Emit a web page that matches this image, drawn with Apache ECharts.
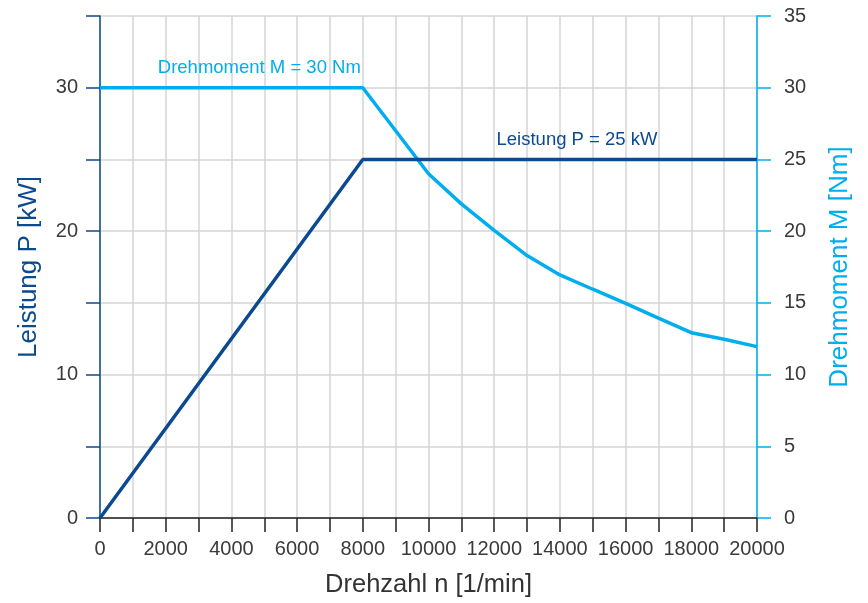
<!DOCTYPE html>
<html>
<head>
<meta charset="utf-8">
<script src="https://cdn.jsdelivr.net/npm/echarts@6/dist/echarts.min.js"></script>
<style>
html,body{margin:0;padding:0;background:#fff;}
#chart{width:868px;height:603px;}
</style>
</head>
<body>
<div id="chart"></div>
<script>
// Data
const speed = [0, 8000, 20000];
const powerKW = [0, 25, 25];
const torqueSpeed = [0, 8000, 9000, 10000, 11000, 12000, 13000, 14000, 15000, 16000, 17000, 18000, 19000, 20000];
const torqueNm = [30, 30, 27, 24, 21.9, 20.05, 18.3, 16.95, 15.95, 14.97, 13.93, 12.92, 12.46, 11.95];
const xTickLabels = [0, 2000, 4000, 6000, 8000, 10000, 12000, 14000, 16000, 18000, 20000];
const leftTickLabels = [0, 10, 20, 30];
const rightTickLabels = [0, 5, 10, 15, 20, 25, 30, 35];
const torqueNote = {text: 'Drehmoment M = 30 Nm', coord: [4850, 31.4]};
const powerNote = {text: 'Leistung P = 25 kW', coord: [14520, 26.35]};

const DARK = '#0b4a90';
const LIGHT = '#00aeef';
const FONT = '"Liberation Sans", Arial, sans-serif';

const chart = echarts.init(document.getElementById('chart'));
chart.setOption({
  animation: false,
  backgroundColor: '#fff',
  textStyle: {fontFamily: FONT},
  grid: {left: 100, right: 111, top: 16, bottom: 85, containLabel: false},
  xAxis: {
    type: 'value', min: 0, max: 20000, interval: 1000,
    name: 'Drehzahl n [1/min]', nameLocation: 'middle', nameGap: 54,
    nameTextStyle: {fontSize: 25.5, color: '#333', fontFamily: FONT},
    axisLine: {show: true, onZero: false, lineStyle: {color: '#222', width: 1.5}},
    axisTick: {show: true, inside: false, length: 14, lineStyle: {color: '#222', width: 1.5}},
    axisLabel: {
      margin: 21, fontSize: 20, color: '#3a3a3a', fontFamily: FONT,
      formatter: v => xTickLabels.includes(v) ? String(v) : ''
    },
    splitLine: {show: true, lineStyle: {color: '#d4d4d4', width: 1.5}}
  },
  yAxis: [
    {
      type: 'value', min: 0, max: 35, interval: 5, position: 'left',
      name: 'Leistung P [kW]', nameLocation: 'middle', nameGap: 58, nameRotate: 90,
      nameTextStyle: {fontSize: 26, color: DARK, fontFamily: FONT},
      axisLine: {show: true, lineStyle: {color: DARK, width: 1.5}},
      axisTick: {show: true, inside: false, length: 14, lineStyle: {color: DARK, width: 1.5}},
      axisLabel: {
        margin: 22, fontSize: 20, color: '#3a3a3a', fontFamily: FONT,
        formatter: v => leftTickLabels.includes(v) ? String(v) : ''
      },
      splitLine: {show: true, lineStyle: {color: '#d4d4d4', width: 1.5}}
    },
    {
      type: 'value', min: 0, max: 35, interval: 5, position: 'right',
      name: 'Drehmoment M [Nm]', nameLocation: 'middle', nameGap: 70, nameRotate: 90,
      nameTextStyle: {fontSize: 26, color: LIGHT, fontFamily: FONT},
      axisLine: {show: true, lineStyle: {color: LIGHT, width: 1.5}},
      axisTick: {show: true, inside: false, length: 14, lineStyle: {color: LIGHT, width: 1.5}},
      axisLabel: {
        margin: 27, fontSize: 20, color: '#3a3a3a', fontFamily: FONT,
        formatter: v => rightTickLabels.includes(v) ? String(v) : ''
      },
      splitLine: {show: false}
    }
  ],
  series: [
    {
      name: 'Drehmoment', type: 'line', yAxisIndex: 1, symbol: 'none', smooth: false,
      data: torqueSpeed.map((x, i) => [x, torqueNm[i]]),
      lineStyle: {color: LIGHT, width: 3.5},
      z: 3,
      markPoint: {
        symbol: 'circle', symbolSize: 0, silent: true,
        label: {show: true, position: 'inside', color: LIGHT, fontSize: 18.5, fontFamily: FONT, formatter: () => torqueNote.text},
        data: [{coord: torqueNote.coord}]
      }
    },
    {
      name: 'Leistung', type: 'line', yAxisIndex: 0, symbol: 'none', smooth: false,
      data: speed.map((x, i) => [x, powerKW[i]]),
      lineStyle: {color: DARK, width: 3.5},
      z: 4,
      markPoint: {
        symbol: 'circle', symbolSize: 0, silent: true,
        label: {show: true, position: 'inside', color: DARK, fontSize: 18.5, fontFamily: FONT, formatter: () => powerNote.text},
        data: [{coord: powerNote.coord}]
      }
    }
  ]
});
</script>
</body>
</html>
